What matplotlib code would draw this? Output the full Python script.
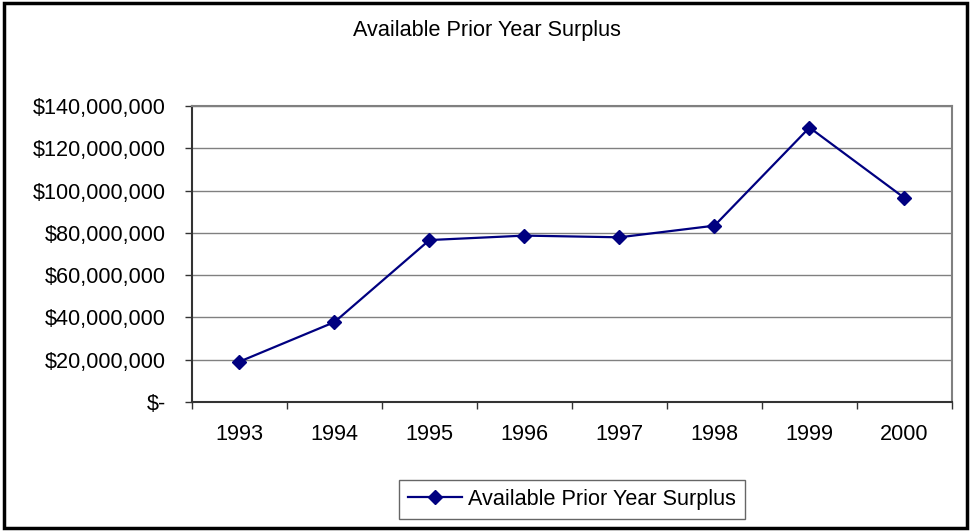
import matplotlib
matplotlib.use("Agg")
import matplotlib.pyplot as plt
from matplotlib.patches import Rectangle
from matplotlib.ticker import FuncFormatter, FixedLocator

plt.rcParams['font.family'] = ['Liberation Sans', 'DejaVu Sans']

years = ["1993", "1994", "1995", "1996", "1997", "1998", "1999", "2000"]
surplus = [19.1e6, 37.8e6, 76.6e6, 78.7e6, 77.9e6, 83.4e6, 129.8e6, 96.5e6]
series_name = "Available Prior Year Surplus"
title = "Available Prior Year Surplus"

FS = 15.6

fig = plt.figure(figsize=(9.71, 5.31), dpi=100)
ax = fig.add_axes([0.1977, 0.2429, 0.7827, 0.5575])

x = list(range(len(years)))
ax.plot(x, surplus, color="#000080", lw=1.6, marker="D", ms=7,
        mec="#000080", mfc="#000080", label=series_name, zorder=3)

ax.set_xlim(-0.5, len(years) - 0.5)
ax.set_ylim(0, 140e6)
ax.set_yticks([i * 20e6 for i in range(8)])


def money(v, pos):
    if v == 0:
        return "$-"
    return "${:,.0f}".format(v)


ax.yaxis.set_major_formatter(FuncFormatter(money))
ax.grid(axis="y", color="#808080", lw=1.0)
ax.set_axisbelow(True)

# category boundaries carry the tick marks, labels sit at category centres
ax.xaxis.set_major_locator(FixedLocator([i - 0.5 for i in range(len(years) + 1)]))
ax.xaxis.set_minor_locator(FixedLocator(x))
ax.set_xticklabels([])
ax.set_xticklabels(years, minor=True)
ax.tick_params(axis="x", which="major", length=5, width=1, color="#333333", direction="out")
ax.tick_params(axis="x", which="minor", length=0, pad=16, labelsize=FS)
ax.tick_params(axis="y", length=5, width=1, color="#333333", direction="out",
               pad=14, labelsize=FS)

for side in ("left", "bottom"):
    ax.spines[side].set_color("#333333")
    ax.spines[side].set_linewidth(1.5)
for side in ("top", "right"):
    ax.spines[side].set_color("#808080")
    ax.spines[side].set_linewidth(1.5)

fig.text(0.5016, 0.9435, title, ha="center", va="center", fontsize=FS)

leg = fig.legend(loc="center", bbox_to_anchor=(0.589, 0.0593), fontsize=FS,
                 frameon=True, fancybox=False, handlelength=2.5,
                 borderpad=0.4, handletextpad=0.3)
leg.get_frame().set_edgecolor("#404040")
leg.get_frame().set_linewidth(1.0)

fig.patches.append(Rectangle((0.004, 0.006), 0.992, 0.988, transform=fig.transFigure,
                             fill=False, edgecolor="black", lw=2.5))

fig.savefig("out.png", dpi=100)
